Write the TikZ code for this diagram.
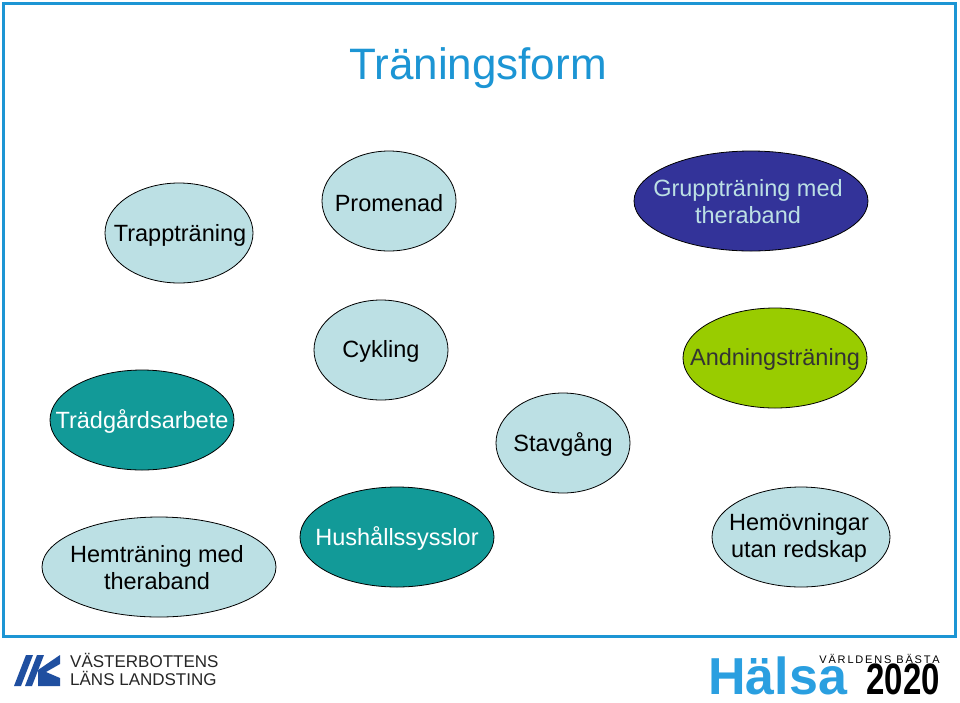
\documentclass[tikz,border=0pt]{standalone}
\usepackage{fontspec}
\setmainfont{Liberation Sans}
\usetikzlibrary{shapes.geometric}
\definecolor{lb}{HTML}{BCE0E4}
\definecolor{tealc}{HTML}{129A98}
\definecolor{dblue}{HTML}{333399}
\definecolor{grn}{HTML}{99CC00}
\definecolor{frame}{HTML}{1C95D4}
\definecolor{hblue}{HTML}{2A9FE0}
\definecolor{vblue}{HTML}{1F4FA0}
\begin{document}
\begin{tikzpicture}[x=1pt,y=-1pt,
  ell/.style={draw=black,line width=0.8pt},
  lab/.style={font=\fontsize{23.5}{27}\selectfont,align=center,inner sep=0pt}]
\useasboundingbox (0,0) rectangle (960,702);
\fill[white] (0,0) rectangle (960,702);
\draw[frame,line width=3pt] (3,3) rectangle (955,636);
\node[text=frame,font=\fontsize{44}{48}\selectfont] (title) at (478,68) {Träningsform};
% ellipses
\fill[lb,ell] (179,233) ellipse [x radius=74,y radius=50];
\node[lab] (t1) at (180,235) {Trappträning};
\fill[lb,ell] (389,201) ellipse [x radius=67,y radius=50];
\node[lab] (t2) at (389,203) {Promenad};
\fill[dblue,ell] (751,201) ellipse [x radius=117,y radius=50];
\node[lab,text=lb] (t3) at (748,202) {Gruppträning med\\theraband};
\fill[lb,ell] (381,350) ellipse [x radius=67,y radius=50];
\node[lab] (t4) at (381,351) {Cykling};
\fill[grn,ell] (775,358) ellipse [x radius=92,y radius=50];
\node[lab,text=black!80] (t5) at (775,359) {Andningsträning};
\fill[tealc,ell] (142,420) ellipse [x radius=92,y radius=50];
\node[lab,text=white] (t6) at (142,421) {Trädgårdsarbete};
\fill[lb,ell] (563,443) ellipse [x radius=67,y radius=50];
\node[lab] (t7) at (563,444) {Stavgång};
\fill[lb,ell] (159,567) ellipse [x radius=117,y radius=50];
\node[lab] (t8) at (157,568) {Hemträning med\\theraband};
\fill[tealc,ell] (397,537) ellipse [x radius=97,y radius=50];
\node[lab,text=white] (t9) at (397,538) {Hushållssysslor};
\fill[lb,ell] (801,537) ellipse [x radius=89,y radius=50];
\node[lab] (t10) at (799,538) {Hemövningar\\utan redskap};
% left logo
\fill[vblue] (14,686) -- (26,655) -- (33,655) -- (21,686) -- cycle;
\fill[vblue] (25,686) -- (37,655) -- (44,655) -- (32,686) -- cycle;
\fill[vblue] (38,670) -- (60,655) -- (60,664) -- (46,672) -- (60,678) -- (60,686) -- (38,686) -- cycle;
\node[anchor=west,inner sep=0pt,font=\fontsize{17}{18}\selectfont,align=left,text=black!85] (vll) at (70,669) {VÄSTERBOTTENS\\LÄNS LANDSTING};
% right logo
\node[anchor=south west,inner sep=0pt,text=hblue,font=\bfseries\fontsize{52}{52}\selectfont] (halsa) at (708,695) {Hälsa};
\node[anchor=south east,inner sep=0pt,xscale=0.75,font=\bfseries\fontsize{44}{44}\selectfont] (y2020) at (940,695) {2020};
\node[anchor=south east,inner sep=0pt,font=\fontsize{11}{11}\selectfont] (vb) at (940,664) {V\,Ä\,R\,L\,D\,E\,N\,S\, B\,Ä\,S\,T\,A};
\end{tikzpicture}
\end{document}
